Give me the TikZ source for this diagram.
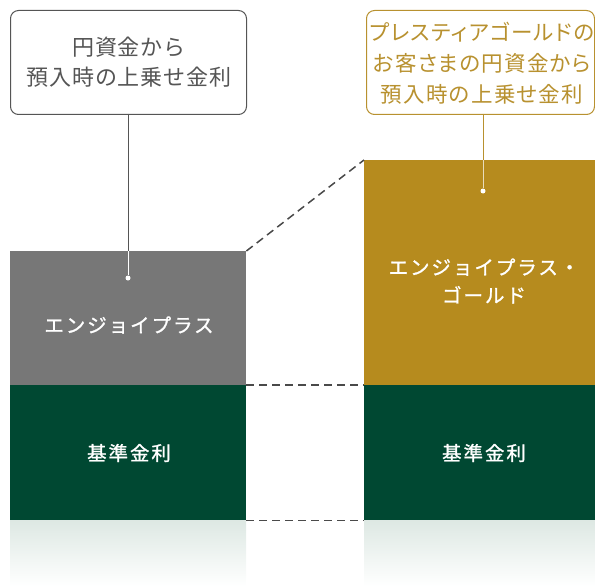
\documentclass[tikz,border=0pt]{standalone}
\usepackage{fontspec}
\setmainfont{Noto Sans CJK JP}
\newfontfamily\jpbox[LetterSpace=10,FakeBold=1.2]{Noto Sans CJK JP}
\newfontfamily\jpcall[LetterSpace=4]{Noto Sans CJK JP}
\newfontfamily\jpcallp[RawFeature=+palt,LetterSpace=6]{Noto Sans CJK JP}
\usetikzlibrary{calc}
\definecolor{grayb}{HTML}{777777}
\definecolor{goldb}{HTML}{B68B1E}
\definecolor{greenb}{HTML}{004832}
\definecolor{calltxt}{HTML}{555555}
\definecolor{goldtxt}{HTML}{B8912F}
\definecolor{dashc}{HTML}{4A4A4A}
\definecolor{refl}{HTML}{DDE8E3}
\tikzset{
  block/.style={draw=none, inner sep=0pt, anchor=north west},
  boxlabel/.style={text=white, font=\jpbox\fontsize{19.5}{28}\selectfont, align=center},
  callout/.style={rounded corners=8pt, line width=1pt, fill=white, inner sep=0pt, anchor=north west},
  calltext/.style={font=\jpcall\fontsize{22}{30}\selectfont, align=center},
  dashline/.style={draw=dashc, line width=1.5pt, dash pattern=on 8pt off 5pt},
  pin/.style={circle, fill=white, inner sep=0pt, minimum size=5pt}
}
\begin{document}
\begin{tikzpicture}[x=1pt,y=-1pt]
\useasboundingbox (0,0) rectangle (595,586);
% reflections
\shade[top color=refl, bottom color=white] (10,520) rectangle (246,586);
\shade[top color=refl, bottom color=white] (364,520) rectangle (595,586);
% blocks
\node[block, fill=grayb, minimum width=236pt, minimum height=134pt] (enjoy) at (10,251) {};
\node[block, fill=greenb, minimum width=236pt, minimum height=135pt] (baseL) at (10,385) {};
\node[block, fill=goldb, minimum width=231pt, minimum height=225pt] (gold) at (364,160) {};
\node[block, fill=greenb, minimum width=231pt, minimum height=135pt] (baseR) at (364,385) {};
\node[boxlabel] (enjoyT) at (129,325) {エンジョイプラス};
\node[boxlabel] (goldT) at (484,281) {エンジョイプラス・\\ゴールド};
\node[boxlabel] (baseLT) at (129,453) {基準金利};
\node[boxlabel] (baseRT) at (484,453) {基準金利};
% dashed connectors
\draw[dashline] (enjoy.north east) -- (gold.north west);
\draw[dashline] (baseL.north east) -- (baseR.north west);
\draw[dashline] (baseL.south east) -- (baseR.south west);
% callouts
\node[callout, draw=calltxt, minimum width=236pt, minimum height=104pt] (cL) at (10,10) {};
\node[calltext, text=calltxt] (cLT) at (129,62) {円資金から\\預入時の上乗せ金利};
\node[callout, draw=goldtxt, minimum width=228pt, minimum height=104pt] (cR) at (366,10) {};
\node[calltext, text=goldtxt, font=\jpcallp\fontsize{21.5}{31}\selectfont] (cRT) at (482,63) {プレスティアゴールドの\\お客さまの円資金から\\預入時の上乗せ金利};
% pins
\node[pin] (pL) at (128,278) {};
\node[pin] (pR) at (483,191) {};
\draw[calltxt, line width=1pt] (128,114) -- (128,251);
\draw[white, line width=1pt] (128,251) -- (pL);
\draw[goldtxt, line width=1pt] (483,114) -- (483,160);
\draw[white!70!goldb, line width=1pt] (483,160) -- (pR);
\end{tikzpicture}
\end{document}
